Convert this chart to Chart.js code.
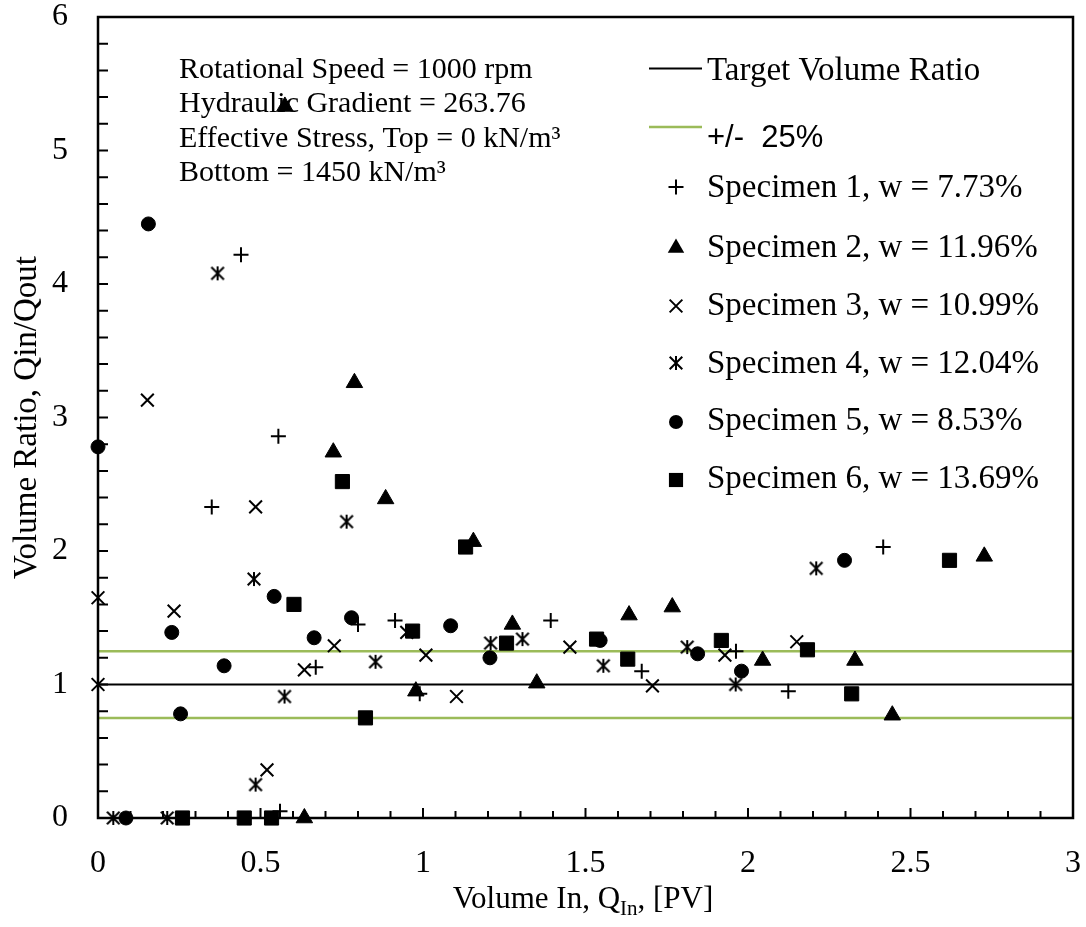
<!DOCTYPE html>
<html>
<head>
<meta charset="utf-8">
<title>Volume Ratio vs Volume In</title>
<script src="https://cdn.jsdelivr.net/npm/chart.js@4.4.1/dist/chart.umd.min.js"></script>
<style>
  html, body { margin: 0; padding: 0; background: #fff; }
  #wrap { width: 1086px; height: 927px; }
</style>
</head>
<body>
<div id="wrap"><canvas id="grafico" width="1086" height="927"></canvas></div>
<script>
// Valores
const spec1X = [0.44, 0.555, 0.35, 0.80, 0.914, 0.67, 0.99, 0.56, 1.393, 1.673, 1.963, 2.124, 2.416];
const spec1Y = [4.22, 2.86, 2.33, 1.45, 1.48, 1.13, 0.93, 0.05, 1.48, 1.10, 1.25, 0.95, 2.03];

const spec2X = [0.575, 0.789, 0.724, 0.885, 1.155, 0.978, 0.635, 1.275, 1.35, 1.634, 1.767, 2.045, 2.329, 2.444, 2.727];
const spec2Y = [5.33, 3.26, 2.74, 2.39, 2.07, 0.95, 0, 1.45, 1.01, 1.52, 1.58, 1.18, 1.18, 0.77, 1.96];

const spec3X = [0.152, 0.485, 0, 0.234, 0.95, 0.727, 1.009, 0.635, 0, 0.52, 1.103, 1.452, 1.706, 1.929, 2.15];
const spec3Y = [3.13, 2.33, 1.65, 1.55, 1.39, 1.29, 1.22, 1.11, 1.0, 0.36, 0.91, 1.28, 0.99, 1.22, 1.32];

const spec4X = [0.368, 0.765, 0.48, 0.854, 0.574, 0.485, 0.047, 0.213, 1.208, 1.306, 1.555, 1.813, 1.962, 2.21];
const spec4Y = [4.08, 2.22, 1.79, 1.17, 0.91, 0.25, 0, 0, 1.31, 1.34, 1.14, 1.28, 1.00, 1.87];

const spec5X = [0.155, 0, 0.542, 0.227, 0.78, 0.665, 0.388, 0.254, 0.086, 1.085, 1.206, 1.545, 1.845, 1.98, 2.297];
const spec5Y = [4.45, 2.78, 1.66, 1.39, 1.50, 1.35, 1.14, 0.78, 0, 1.44, 1.20, 1.33, 1.23, 1.10, 1.93];

const spec6X = [0.752, 0.603, 0.968, 0.823, 0.26, 0.45, 0.534, 1.131, 1.257, 1.534, 1.63, 1.918, 2.183, 2.319, 2.62];
const spec6Y = [2.52, 1.60, 1.40, 0.75, 0, 0, 0, 2.03, 1.31, 1.34, 1.19, 1.33, 1.26, 0.93, 1.93];

const lineX = [0, 3];
const targetY = [1, 1];
const upperY = [1.25, 1.25];
const lowerY = [0.75, 0.75];

const xTickLabels = ['0', '0.5', '1', '1.5', '2', '2.5', '3'];
const yTickLabels = ['0', '1', '2', '3', '4', '5', '6'];

const specLabels = [
  'Specimen 1, w = 7.73%',
  'Specimen 2, w = 11.96%',
  'Specimen 3, w = 10.99%',
  'Specimen 4, w = 12.04%',
  'Specimen 5, w = 8.53%',
  'Specimen 6, w = 13.69%'
];
const noteLines = [
  'Rotational Speed = 1000 rpm',
  'Hydraulic Gradient = 263.76',
  'Effective Stress, Top = 0 kN/m\u00B3',
  'Bottom = 1450 kN/m\u00B3'
];

const SERIF = "'Liberation Serif', 'Times New Roman', serif";
const SANS = "'Liberation Sans', Arial, sans-serif";
const GREEN = '#9BBB59';

function pares(xs, ys) {
  return xs.map((x, i) => ({ x: x, y: ys[i] }));
}

// asterisco de 6 braços (o "star" do Chart.js tem 8)
function makeAsterisk() {
  const c = document.createElement('canvas');
  c.width = 18; c.height = 18;
  const g = c.getContext('2d');
  const m = 9;
  g.strokeStyle = '#000';
  g.lineWidth = 2;
  g.beginPath();
  g.moveTo(m, m - 7); g.lineTo(m, m + 7);
  g.moveTo(m - 6.3, m - 6.3); g.lineTo(m + 6.3, m + 6.3);
  g.moveTo(m + 6.3, m - 6.3); g.lineTo(m - 6.3, m + 6.3);
  g.stroke();
  return c;
}
const asterisk = makeAsterisk();

const markers = [
  { style: 'cross', radius: 7.5, fill: false },
  { style: 'triangle', radius: 9.5, fill: true },
  { style: 'crossRot', radius: 9, fill: false },
  { style: asterisk, radius: 9, fill: false },
  { style: 'circle', radius: 7, fill: true },
  { style: 'rect', radius: 10, fill: true }
];

const specData = [
  pares(spec1X, spec1Y), pares(spec2X, spec2Y), pares(spec3X, spec3Y),
  pares(spec4X, spec4Y), pares(spec5X, spec5Y), pares(spec6X, spec6Y)
];

const datasets = specData.map((d, i) => ({
  label: specLabels[i],
  data: d,
  pointStyle: markers[i].style,
  pointRadius: markers[i].radius,
  pointHoverRadius: markers[i].radius,
  backgroundColor: '#000',
  borderColor: '#000',
  borderWidth: markers[i].fill ? 1 : 2,
  showLine: false,
  clip: false,
  order: 1
}));

datasets.push(
  { label: 'Target Volume Ratio', data: pares(lineX, targetY), showLine: true, borderColor: '#000', borderWidth: 2, pointRadius: 0, order: 5 },
  { label: '+/-  25%', data: pares(lineX, upperY), showLine: true, borderColor: GREEN, borderWidth: 2.5, pointRadius: 0, order: 5 },
  { label: '+/-  25% low', data: pares(lineX, lowerY), showLine: true, borderColor: GREEN, borderWidth: 2.5, pointRadius: 0, order: 5 }
);

function drawMarker(ctx, m, x, y) {
  ctx.save();
  ctx.fillStyle = '#000';
  ctx.strokeStyle = '#000';
  ctx.lineWidth = 2;
  const r = m.radius;
  if (typeof m.style !== 'string') {
    ctx.drawImage(m.style, x - m.style.width / 2, y - m.style.height / 2);
  } else if (m.style === 'cross') {
    ctx.beginPath();
    ctx.moveTo(x - r, y); ctx.lineTo(x + r, y);
    ctx.moveTo(x, y - r); ctx.lineTo(x, y + r);
    ctx.stroke();
  } else if (m.style === 'crossRot') {
    const d = r * Math.SQRT1_2;
    ctx.beginPath();
    ctx.moveTo(x - d, y - d); ctx.lineTo(x + d, y + d);
    ctx.moveTo(x + d, y - d); ctx.lineTo(x - d, y + d);
    ctx.stroke();
  } else if (m.style === 'triangle') {
    ctx.beginPath();
    ctx.moveTo(x, y - r);
    ctx.lineTo(x + r * Math.sin(2 * Math.PI / 3), y + r / 2);
    ctx.lineTo(x - r * Math.sin(2 * Math.PI / 3), y + r / 2);
    ctx.closePath();
    ctx.fill();
  } else if (m.style === 'circle') {
    ctx.beginPath();
    ctx.arc(x, y, r, 0, Math.PI * 2);
    ctx.fill();
  } else if (m.style === 'rect') {
    const s = r * Math.SQRT1_2;
    ctx.fillRect(x - s, y - s, 2 * s, 2 * s);
  }
  ctx.restore();
}

// textos, legenda, moldura e marcas de escala
const desenhoExtra = {
  id: 'desenhoExtra',
  beforeDatasetsDraw(chart) {
    const ctx = chart.ctx;
    ctx.save();
    ctx.fillStyle = '#000';
    ctx.textAlign = 'left';
    ctx.textBaseline = 'alphabetic';

    // caixa de texto
    ctx.font = '30px ' + SERIF;
    const noteBase = [78, 112, 147, 181];
    noteLines.forEach((t, i) => ctx.fillText(t, 179, noteBase[i]));

    // legenda
    ctx.strokeStyle = '#000';
    ctx.lineWidth = 2;
    ctx.beginPath(); ctx.moveTo(649, 68.5); ctx.lineTo(702, 68.5); ctx.stroke();
    ctx.font = '33px ' + SERIF;
    ctx.fillText('Target Volume Ratio', 707, 80);

    ctx.strokeStyle = GREEN;
    ctx.lineWidth = 2.5;
    ctx.beginPath(); ctx.moveTo(649, 127); ctx.lineTo(702, 127); ctx.stroke();
    ctx.font = '31px ' + SANS;
    ctx.fillText('+/-  25%', 707, 147);

    ctx.font = '33px ' + SERIF;
    const mY = [187, 248, 306, 363, 422, 480];
    const tY = [197, 257, 315, 373, 430, 488];
    specLabels.forEach((t, i) => {
      drawMarker(ctx, markers[i], 676, mY[i]);
      ctx.fillText(t, 707, tY[i]);
    });
    ctx.restore();
  },
  afterDraw(chart) {
    const ctx = chart.ctx;
    const a = chart.chartArea;
    const xs = chart.scales.x;
    const ys = chart.scales.y;
    ctx.save();
    ctx.strokeStyle = '#000';
    ctx.lineWidth = 2;
    ctx.beginPath();
    ys.ticks.forEach(t => {
      const py = ys.getPixelForValue(t.value);
      ctx.moveTo(a.left, py); ctx.lineTo(a.left + 10, py);
    });
    xs.ticks.forEach(t => {
      const px = xs.getPixelForValue(t.value);
      const major = Math.abs(t.value * 2 - Math.round(t.value * 2)) < 1e-6;
      ctx.moveTo(px, a.bottom); ctx.lineTo(px, a.bottom - (major ? 10 : 7));
    });
    ctx.stroke();

    ctx.lineWidth = 2.5;
    ctx.strokeRect(a.left, a.top, a.right - a.left, a.bottom - a.top);

    // títulos dos eixos
    ctx.fillStyle = '#000';
    ctx.textBaseline = 'alphabetic';
    ctx.font = '31px ' + SERIF;
    const p1 = 'Volume In, Q';
    const sub = 'In';
    const p2 = ', [PV]';
    const w1 = ctx.measureText(p1).width;
    const w3 = ctx.measureText(p2).width;
    ctx.font = '21px ' + SERIF;
    const w2 = ctx.measureText(sub).width;
    const total = w1 + w2 + w3;
    let x0 = 583 - total / 2;
    ctx.font = '31px ' + SERIF;
    ctx.textAlign = 'left';
    ctx.fillText(p1, x0, 908);
    ctx.font = '21px ' + SERIF;
    ctx.fillText(sub, x0 + w1, 915);
    ctx.font = '31px ' + SERIF;
    ctx.fillText(p2, x0 + w1 + w2, 908);

    ctx.font = '33px ' + SERIF;
    ctx.translate(36, (a.top + a.bottom) / 2);
    ctx.rotate(-Math.PI / 2);
    ctx.textAlign = 'center';
    ctx.fillText('Volume Ratio, Qin/Qout', 0, 0);
    ctx.restore();
  }
};

const ctx = document.getElementById('grafico').getContext('2d');

const grafico = new Chart(ctx, {
  type: 'scatter',
  data: { datasets: datasets },
  options: {
    responsive: false,
    devicePixelRatio: 1,
    animation: false,
    layout: { padding: { left: 0, right: 13, top: 17, bottom: 0 } },
    scales: {
      x: {
        type: 'linear',
        min: 0,
        max: 3,
        afterFit: (scale) => {
          scale.height = 109;
          scale.paddingLeft = 0;
          scale.paddingRight = 0;
        },
        grid: { display: false, drawTicks: false },
        border: { display: false },
        ticks: {
          stepSize: 0.1,
          autoSkip: false,
          maxRotation: 0,
          padding: 26,
          color: '#000',
          font: { family: SERIF, size: 32 },
          callback: (v) => {
            const i = Math.round(v * 2);
            return Math.abs(v * 2 - i) < 1e-6 ? xTickLabels[i] : '';
          }
        }
      },
      y: {
        min: 0,
        max: 6,
        afterFit: (scale) => {
          scale.width = 98;
          scale.paddingTop = 0;
          scale.paddingBottom = 0;
        },
        grid: { display: false, drawTicks: false },
        border: { display: false },
        ticks: {
          stepSize: 0.2,
          autoSkip: false,
          padding: 30,
          color: '#000',
          font: { family: SERIF, size: 32 },
          callback: (v) => {
            const i = Math.round(v);
            return Math.abs(v - i) < 1e-6 ? yTickLabels[i] : '';
          }
        }
      }
    },
    plugins: {
      legend: { display: false },
      tooltip: { enabled: false },
      title: { display: false }
    }
  },
  plugins: [desenhoExtra]
});
</script>
</body>
</html>
